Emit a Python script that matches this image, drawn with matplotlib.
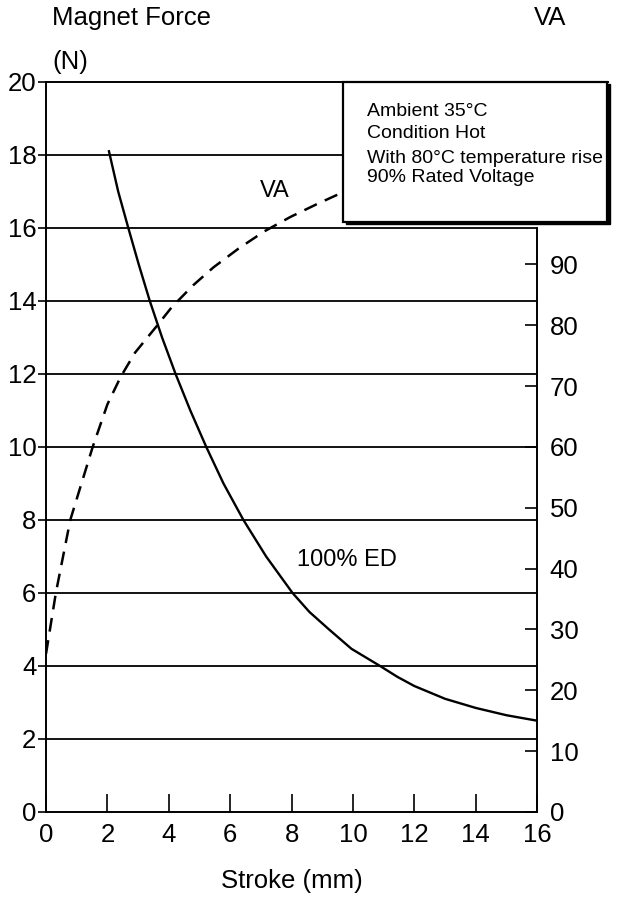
import matplotlib
matplotlib.use("Agg")
import matplotlib.pyplot as plt
from matplotlib.patches import Rectangle

plt.rcParams['font.family'] = ['Liberation Sans', 'DejaVu Sans']

# 100% ED magnet force curve (stroke mm -> force N)
ed_stroke = [2.05, 2.35, 2.68, 3.02, 3.38, 3.78, 4.22, 4.70, 5.22, 5.78,
             6.43, 7.17, 8.03, 8.58, 9.22, 9.95, 10.88, 11.45, 12.0, 13.0,
             14.0, 15.0, 16.0]
ed_force = [18.1, 17.0, 16.0, 15.0, 14.0, 13.0, 12.0, 11.0, 10.0, 9.0,
            8.0, 7.0, 6.0, 5.48, 5.0, 4.47, 4.0, 3.7, 3.45, 3.1,
            2.85, 2.65, 2.5]

# VA curve (stroke mm -> VA, right axis)
va_stroke = [0.0, 0.32, 0.79, 1.52, 2.0, 2.43, 2.9, 3.58, 4.1, 4.8,
             5.45, 6.27, 7.1, 7.96, 8.86, 9.6, 10.0]
va_value = [26, 36, 48, 60, 67, 71.5, 75.5, 79.7, 83.0, 86.6,
            89.5, 92.6, 95.4, 97.8, 100, 101.7, 102.5]

x_ticks = [0, 2, 4, 6, 8, 10, 12, 14, 16]
force_ticks = [0, 2, 4, 6, 8, 10, 12, 14, 16, 18, 20]
va_ticks = [0, 10, 20, 30, 40, 50, 60, 70, 80, 90]

notes = ['Ambient 35°C', 'Condition Hot',
         'With 80°C temperature rise', '90% Rated Voltage']

fig = plt.figure(figsize=(6.17, 8.98), dpi=100)
ax = fig.add_axes([0.0746, 0.0958, 0.796, 0.813])
ax.set_xlim(0, 16)
ax.set_ylim(0, 20)
ax.set_xticks(x_ticks)
ax.set_yticks(force_ticks)
for s in ('top', 'right'):
    ax.spines[s].set_visible(False)
for s in ('left', 'bottom'):
    ax.spines[s].set_linewidth(1.4)

# horizontal grid lines
for y in force_ticks[1:-1]:
    ax.axhline(y, color='black', lw=1.3, zorder=1)
# top border runs on to the right edge of the note box
ax.plot([0, 18.3], [20, 20], color='black', lw=1.4, clip_on=False, zorder=2)

ax.tick_params(axis='y', direction='out', length=6, width=1.2, pad=1,
               labelsize=18.5)
ax.tick_params(axis='x', direction='in', length=13, width=1.2, pad=8,
               labelsize=18.5)

ax.plot(ed_stroke, ed_force, color='black', lw=1.7, zorder=3)
ax.text(9.8, 6.9, '100% ED', ha='center', va='center', fontsize=17)

ax2 = ax.twinx()
ax2.set_ylim(0, 120)
ax2.set_yticks(va_ticks)
for s in ('top', 'left', 'bottom'):
    ax2.spines[s].set_visible(False)
ax2.spines['right'].set_bounds(0, 96)
ax2.spines['right'].set_linewidth(1.4)
ax2.tick_params(axis='y', direction='in', length=9, width=1.2, pad=9,
                labelsize=18.5)
ax2.plot(va_stroke, va_value, color='black', lw=1.8, dashes=(5.5, 3.5),
         zorder=3)
ax.text(7.45, 17.0, 'VA', ha='center', va='center', fontsize=17)

# note box with drop shadow
bx, by, bw, bh = 9.69, 16.16, 8.6, 3.84
shadow = Rectangle((bx + 0.07, by - 0.06), bw, bh, transform=ax.transData,
                   facecolor='black', edgecolor='black', clip_on=False,
                   zorder=10)
box = Rectangle((bx, by), bw, bh, transform=ax.transData,
                facecolor='white', edgecolor='black', lw=1.6, clip_on=False,
                zorder=11)
ax2.add_patch(shadow)
ax2.add_patch(box)
for txt, y in zip(notes, [19.18, 18.6, 17.89, 17.38]):
    ax2.text(10.46, y, txt, transform=ax.transData, ha='left', va='center',
             fontsize=14, zorder=12)

fig.text(52 / 617, 1 - 18 / 898, 'Magnet Force', ha='left', va='center',
         fontsize=18.5)
fig.text(52 / 617, 1 - 62 / 898, '(N)', ha='left', va='center',
         fontsize=18.5)
fig.text(550 / 617, 1 - 18 / 898, 'VA', ha='center', va='center',
         fontsize=18.5)
ax.set_xlabel('Stroke (mm)', fontsize=18.5, labelpad=16)

fig.savefig('out.png', dpi=100)
